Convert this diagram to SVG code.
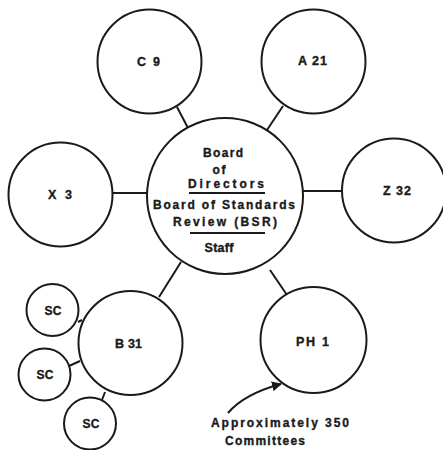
<svg xmlns="http://www.w3.org/2000/svg" width="443" height="450" viewBox="0 0 443 450">
  <style>
    .node { fill: #ffffff; stroke: #1a1a1a; stroke-width: 2; }
    .link { stroke: #1a1a1a; stroke-width: 2; fill: none; }
    .label { font-family: "Liberation Sans", Arial, sans-serif; font-weight: bold; font-size: 12.5px; fill: #1a1a1a; stroke: #1a1a1a; stroke-width: 0.35; text-anchor: middle; }
    .center { font-size: 12px; }
    .small { font-size: 12px; }
    .rule { stroke: #1a1a1a; stroke-width: 2; }
  </style>
  <defs>
    <marker id="arrowhead" viewBox="0 0 10 10" refX="9" refY="5" markerWidth="5" markerHeight="5" orient="auto-start-reverse">
      <path d="M0,0 L10,5 L0,10 z" fill="#1a1a1a"/>
    </marker>
  </defs>
  <rect width="443" height="450" fill="#ffffff"/>

  <!-- connectors -->
  <g id="connectors">
    <line class="link" x1="177" y1="107" x2="188" y2="128"/>
    <line class="link" x1="283" y1="106" x2="267" y2="130"/>
    <line class="link" x1="113" y1="193" x2="147" y2="193"/>
    <line class="link" x1="303" y1="191" x2="343" y2="191"/>
    <line class="link" x1="159" y1="297" x2="181" y2="262"/>
    <line class="link" x1="270" y1="270" x2="287" y2="295"/>
    <line class="link" x1="78" y1="322" x2="82" y2="320"/>
    <line class="link" x1="69" y1="366" x2="80" y2="361"/>
    <line class="link" x1="102" y1="400" x2="105" y2="392"/>
    <path class="link" d="M228,413 Q244,394 281,384" marker-end="url(#arrowhead)"/>
  </g>

  <g id="board">
    <circle class="node" cx="225" cy="196" r="78"/>
    <text class="label center" x="223" y="157" textLength="40">Board</text>
    <text class="label center" x="219" y="174" textLength="13">of</text>
    <text class="label center" x="226" y="188" textLength="76">Directors</text>
    <line class="rule" x1="189" y1="193" x2="265" y2="193"/>
    <text class="label center" x="224" y="209" textLength="142">Board of Standards</text>
    <text class="label center" x="225" y="226" textLength="104">Review (BSR)</text>
    <line class="rule" x1="190" y1="233" x2="265" y2="233"/>
    <text class="label" x="219" y="252" font-size="13" textLength="29">Staff</text>
  </g>

  <g id="c9">
    <circle class="node" cx="149.5" cy="61.5" r="52"/>
    <text class="label" x="148.5" y="65.5" textLength="23">C 9</text>
  </g>
  <g id="a21">
    <circle class="node" cx="313.5" cy="61.5" r="52"/>
    <text class="label" x="312.5" y="64.5" textLength="29">A 21</text>
  </g>
  <g id="x3">
    <circle class="node" cx="60.5" cy="194.5" r="52"/>
    <text class="label" x="60" y="199" textLength="24">X 3</text>
  </g>
  <g id="z32">
    <circle class="node" cx="394" cy="190.5" r="52"/>
    <text class="label" x="397" y="195" textLength="28">Z 32</text>
  </g>
  <g id="b31">
    <circle class="node" cx="130.5" cy="343" r="52"/>
    <text class="label" x="128.5" y="347.5" textLength="27">B 31</text>
  </g>
  <g id="ph1">
    <circle class="node" cx="313.5" cy="340" r="53"/>
    <text class="label" x="312.5" y="345.5" textLength="33">PH 1</text>
  </g>
  <g id="sc1">
    <circle class="node" cx="52.5" cy="310" r="26"/>
    <text class="label small" x="53" y="314.5" textLength="17">SC</text>
  </g>
  <g id="sc2">
    <circle class="node" cx="44.5" cy="374.5" r="26"/>
    <text class="label small" x="45" y="379" textLength="17">SC</text>
  </g>
  <g id="sc3">
    <circle class="node" cx="90" cy="423.5" r="26"/>
    <text class="label small" x="91" y="428" textLength="17">SC</text>
  </g>

  <g id="note">
    <text class="label center" x="280" y="427" textLength="138">Approximately 350</text>
    <text class="label center" x="265" y="445" textLength="80">Committees</text>
  </g>
</svg>
